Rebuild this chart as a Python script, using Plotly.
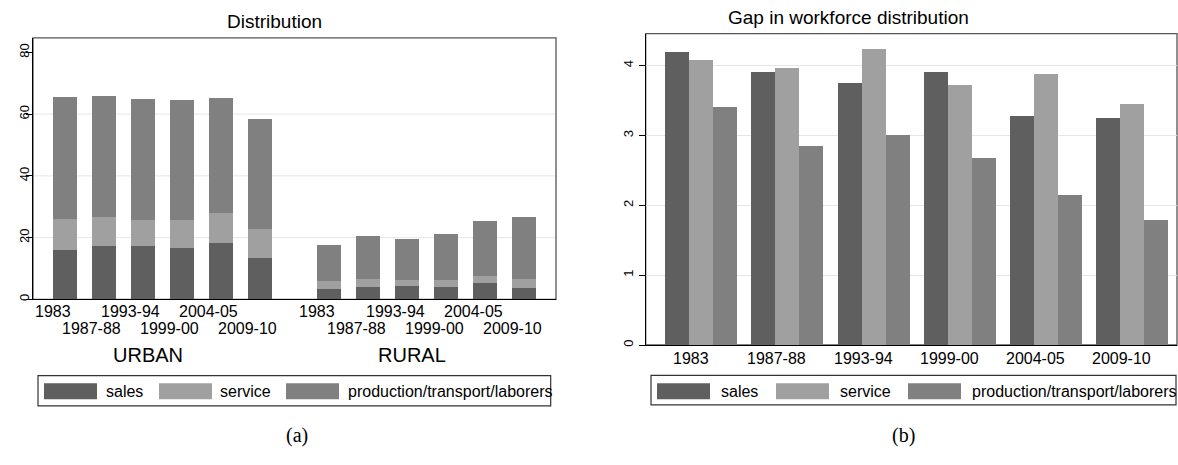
import plotly.graph_objects as go

# ---- data -----------------------------------------------------------------
years = ["1983", "1987-88", "1993-94", "1999-00", "2004-05", "2009-10"]
areas = ["URBAN", "RURAL"]
series = ["sales", "service", "production/transport/laborers"]
colors = ["#5f5f5f", "#a0a0a0", "#808080"]

# (a) share of workforce by occupation, stacked segments (percent)
urban_sales = [16.0, 17.2, 17.3, 16.6, 18.4, 13.4]
urban_service = [10.0, 9.5, 8.5, 9.2, 9.7, 9.4]
urban_production = [39.7, 39.2, 39.3, 38.8, 37.3, 35.8]
rural_sales = [3.5, 4.2, 4.4, 4.1, 5.4, 3.9]
rural_service = [2.5, 2.4, 2.0, 2.4, 2.3, 2.8]
rural_production = [11.7, 13.9, 13.2, 14.7, 17.7, 20.1]

# (b) gap in workforce distribution
gap_sales = [4.20, 3.91, 3.76, 3.91, 3.29, 3.26]
gap_service = [4.09, 3.97, 4.25, 3.73, 3.89, 3.46]
gap_production = [3.42, 2.85, 3.01, 2.68, 2.16, 1.79]

# ---- page geometry (pixels) ----------------------------------------------
W, H = 1178, 465
FONT = "Liberation Sans"


def px(x):
    return x / W


def py(y):
    return 1 - y / H


fig = go.Figure()

# ---- panel (a): stacked bars, urban and rural groups -----------------------
rural_shift = 6.78
pos_a = [i for i in range(len(years))] + [i + rural_shift for i in range(len(years))]
stack_a = [
    urban_sales + rural_sales,
    urban_service + rural_service,
    urban_production + rural_production,
]
for name, vals, col in zip(series, stack_a, colors):
    fig.add_trace(go.Bar(
        x=pos_a, y=vals, name=name, marker_color=col, marker_line_width=0,
        width=0.615, xaxis="x", yaxis="y", showlegend=False,
    ))

# ---- panel (b): grouped bars ----------------------------------------------
bw = 0.278
gap_vals = [gap_sales, gap_service, gap_production]
for j, (name, vals, col) in enumerate(zip(series, gap_vals, colors)):
    fig.add_trace(go.Bar(
        x=[i + (j - 1) * bw for i in range(len(years))], y=vals, name=name,
        marker_color=col, marker_line_width=0, width=bw,
        xaxis="x2", yaxis="y2", showlegend=False,
    ))

axis_common = dict(showline=True, linecolor="#000000", linewidth=1.3,
                   zeroline=False, fixedrange=True)

fig.update_layout(
    width=W, height=H, margin=dict(l=0, r=0, t=0, b=0),
    paper_bgcolor="white", plot_bgcolor="white",
    barmode="stack", bargap=0,
    font=dict(family=FONT, color="#000000"),
    xaxis=dict(domain=[px(33), px(556)], range=[-0.82, 12.59],
               showticklabels=False, ticks="", showgrid=False, **axis_common),
    yaxis=dict(domain=[py(300.7), py(38)], range=[0, 84.7],
               tickvals=[0, 20, 40, 60, 80], tickangle=-90,
               ticks="outside", ticklen=6, tickcolor="#000000",
               ticklabelstandoff=-8,
               tickfont=dict(size=13, family=FONT), showgrid=False,
               anchor="x", **axis_common),
    xaxis2=dict(domain=[px(645.7), px(1177)], range=[-0.64, 5.52],
                showticklabels=False, ticks="", showgrid=False,
                anchor="y2", **axis_common),
    yaxis2=dict(domain=[py(346.5), py(33.7)], range=[0, 4.46],
                tickvals=[0, 1, 2, 3, 4], tickangle=-90,
                ticks="outside", ticklen=6, tickcolor="#000000",
                tickfont=dict(size=13, family=FONT),
                showgrid=True, gridcolor="#e6e6e6", gridwidth=1,
                anchor="x2", **axis_common),
)

shapes = []
annotations = []

# light horizontal grid in panel (a)
for v in [20, 40, 60]:
    shapes.append(dict(type="line", xref="x domain", yref="y", x0=0, x1=1,
                       y0=v, y1=v, line=dict(color="#e6e6e6", width=1),
                       layer="below"))

# plot frames (top and right edges in grey)
for (x0, y0, x1, y1) in [(33, 38, 556, 300.7), (645.7, 33.7, 1177, 346.5)]:
    shapes.append(dict(type="rect", xref="paper", yref="paper",
                       x0=px(x0), x1=px(x1), y0=py(y1), y1=py(y0),
                       line=dict(color="#555555", width=1.3), layer="below"))

# titles
annotations.append(dict(text="Distribution", x=px(274), y=py(22),
                        xref="paper", yref="paper", showarrow=False,
                        xanchor="center", yanchor="middle",
                        font=dict(size=19, family=FONT)))
annotations.append(dict(text="Gap in workforce distribution", x=px(848), y=py(18),
                        xref="paper", yref="paper", showarrow=False,
                        xanchor="center", yanchor="middle",
                        font=dict(size=19, family=FONT)))

# staggered year labels under panel (a)
for g, shift in enumerate([0, rural_shift]):
    for i, yr in enumerate(years):
        row_y = 313.3 if i % 2 == 0 else 330
        annotations.append(dict(text=yr, x=i + shift - 0.31, y=py(row_y),
                                xref="x", yref="paper", showarrow=False,
                                xanchor="center", yanchor="middle",
                                font=dict(size=16, family=FONT)))
    annotations.append(dict(text=areas[g], x=2.5 + shift - 0.37, y=py(357),
                            xref="x", yref="paper", showarrow=False,
                            xanchor="center", yanchor="middle",
                            font=dict(size=20, family=FONT)))

# year labels under panel (b)
for i, yr in enumerate(years):
    annotations.append(dict(text=yr, x=i - 0.12, y=py(360),
                            xref="x2", yref="paper", showarrow=False,
                            xanchor="center", yanchor="middle",
                            font=dict(size=16, family=FONT)))

# hand-drawn legends below each panel
legend_specs = [
    dict(box=(38, 377.3, 550.7, 407.7), sw=[44, 159, 286], tx=[104, 218, 346]),
    dict(box=(651, 377, 1176, 406.7), sw=[657, 776, 908], tx=[719, 838, 970]),
]
for spec in legend_specs:
    bx0, by0, bx1, by1 = spec["box"]
    shapes.append(dict(type="rect", xref="paper", yref="paper",
                       x0=px(bx0), x1=px(bx1), y0=py(by1), y1=py(by0),
                       line=dict(color="#333333", width=1.2)))
    for name, col, sx, tx in zip(series, colors, spec["sw"], spec["tx"]):
        shapes.append(dict(type="rect", xref="paper", yref="paper",
                           x0=px(sx), x1=px(sx + 53), y0=py(401), y1=py(385),
                           fillcolor=col, line=dict(width=0)))
        annotations.append(dict(text=name, x=px(tx), y=py(393),
                                xref="paper", yref="paper", showarrow=False,
                                xanchor="left", yanchor="middle",
                                font=dict(size=16, family=FONT)))

# sub-figure captions
for cap, cx in [("(a)", 297), ("(b)", 903)]:
    annotations.append(dict(text=cap, x=px(cx), y=py(437),
                            xref="paper", yref="paper", showarrow=False,
                            xanchor="center", yanchor="middle",
                            font=dict(size=20, family="Liberation Serif")))

fig.update_layout(shapes=shapes, annotations=annotations)

fig.write_html("out.html")
